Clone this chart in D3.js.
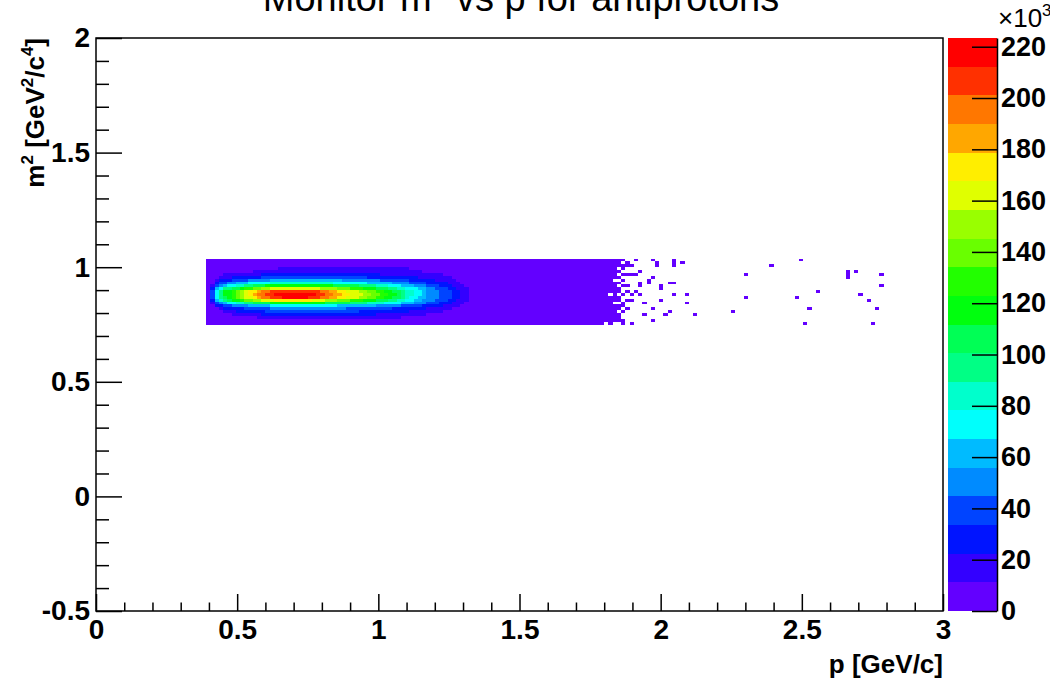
<!DOCTYPE html>
<html>
<head>
<meta charset="utf-8">
<script src="https://cdn.jsdelivr.net/npm/d3@7"></script>
<style>
  html, body { margin: 0; padding: 0; background: #fff; }
  svg { display: block; }
  text { white-space: pre; }
</style>
</head>
<body>
<div id="chart"></div>
<script>
// ------------------------------------------------------------
// data
// ------------------------------------------------------------
const xRange = [0, 3];            // p [GeV/c]
const yRange = [-0.5, 2];         // m^2 [GeV^2/c^4]
const xTickValues = [0, 0.5, 1, 1.5, 2, 2.5, 3];
const yTickValues = [-0.5, 0, 0.5, 1, 1.5, 2];
const zTickValues = [0, 20, 40, 60, 80, 100, 120, 140, 160, 180, 200, 220]; // x10^3
const zMax = 223.4;               // top of the colour palette, x10^3 entries
const nLevels = 20;               // contour levels of the palette

// filled block of the histogram: 97 bins in p from 0.39, 23 rows in m^2 down from 1.0375
const pBinStart = 0.39, pBinWidth = 0.015, nPBins = 97;
const m2BinTop = 1.0375, m2BinHeight = 0.0125;

// per row (top row first): first / last p-bin where the level k+1 is reached
const levelLeft = [
  [], [], [],
  [17],
  [11],
  [4, 13],
  [3, 6, 13],
  [2, 3, 6, 10, 15],
  [2, 2, 3, 5, 7, 10, 15],
  [1, 2, 2, 3, 4, 5, 7, 9, 11, 14],
  [1, 1, 2, 2, 2, 3, 4, 4, 6, 8, 9, 11, 13, 15],
  [1, 1, 1, 2, 2, 2, 3, 3, 4, 4, 6, 7, 8, 9, 10, 12, 13, 15],
  [1, 1, 1, 2, 2, 2, 3, 3, 4, 4, 6, 7, 8, 9, 10, 11, 12, 14, 16],
  [1, 1, 1, 2, 2, 2, 3, 3, 4, 5, 6, 7, 8, 9, 11, 12, 13, 15, 18],
  [1, 1, 2, 2, 2, 3, 3, 4, 5, 6, 8, 9, 11, 13, 16],
  [1, 2, 2, 3, 4, 5, 7, 9, 11, 15],
  [2, 2, 4, 6, 10, 15],
  [3, 4, 9, 15],
  [4, 7, 14],
  [6, 13],
  [12],
  [], []
];
const levelRight = [
  [], [], [],
  [47],
  [50],
  [55, 40],
  [57, 49, 37],
  [58, 53, 47, 40, 31],
  [59, 56, 51, 47, 43, 37, 29],
  [60, 57, 54, 51, 48, 45, 42, 39, 35, 29],
  [61, 58, 56, 53, 51, 49, 46, 44, 42, 39, 36, 33, 30, 26],
  [61, 59, 57, 54, 51, 50, 48, 46, 45, 43, 41, 39, 37, 35, 32, 30, 28, 26],
  [61, 59, 57, 54, 51, 50, 48, 46, 45, 44, 42, 40, 38, 36, 33, 31, 29, 27, 25],
  [61, 59, 57, 54, 51, 49, 47, 46, 45, 43, 41, 39, 37, 35, 32, 30, 28, 26, 23],
  [61, 58, 56, 53, 50, 48, 46, 44, 42, 39, 36, 33, 30, 27, 24],
  [60, 57, 54, 51, 48, 45, 41, 37, 33, 27],
  [59, 55, 50, 45, 39, 30],
  [57, 51, 43, 32],
  [55, 47, 35],
  [51, 39],
  [45],
  [], []
];

// empty bins inside the filled block [p, m2]
const emptyBins = [
  [1.818, 0.881], [1.838, 0.844], [1.838, 0.944], [1.808, 0.756], [1.838, 0.756]
];

// sparse single entries to the right of the block [p, m2]
const sparseBins = [
  [1.853, 1.031], [1.853, 1.019], [1.853, 1.006], [1.868, 1.031], [1.868, 1.006],
  [1.868, 0.994], [1.883, 1.019], [1.883, 1.006], [1.898, 1.006], [1.913, 1.031],
  [1.973, 1.031], [1.988, 1.019], [1.988, 1.006],
  [2.048, 1.031], [2.048, 1.019], [2.048, 1.006], [2.078, 1.019],
  [1.853, 0.981], [1.853, 0.956], [1.868, 0.969], [1.883, 0.969], [1.898, 0.969],
  [1.913, 0.969], [1.928, 0.981], [1.958, 0.944], [1.973, 0.956], [1.928, 0.931],
  [1.928, 0.919], [1.958, 0.931], [2.003, 0.919], [2.003, 0.906], [2.033, 0.931],
  [2.048, 0.931], [2.048, 0.881], [1.868, 0.919], [1.883, 0.919],
  [1.853, 0.894], [1.883, 0.894], [1.898, 0.881], [1.913, 0.894], [1.928, 0.881],
  [1.853, 0.869], [1.853, 0.856], [1.868, 0.844], [1.883, 0.856], [1.898, 0.856],
  [1.943, 0.844], [1.973, 0.819], [2.003, 0.856], [2.033, 0.806], [1.943, 0.794],
  [1.973, 0.769], [2.018, 0.794], [1.853, 0.769], [1.868, 0.769], [1.868, 0.756],
  [1.898, 0.756], [1.853, 0.931], [1.853, 0.906], [1.853, 0.831], [1.853, 0.819],
  [1.853, 0.794], [1.853, 0.781], [1.868, 0.944], [1.868, 0.881], [1.868, 0.831],
  [1.868, 0.806], [1.883, 0.819],
  [2.093, 0.887], [2.093, 0.839], [2.122, 0.791], [2.256, 0.809], [2.302, 0.966],
  [2.302, 0.870], [2.394, 1.011], [2.497, 1.027], [2.479, 0.870], [2.557, 0.900],
  [2.529, 0.822], [2.515, 0.761], [2.664, 0.983], [2.664, 0.970], [2.664, 0.957],
  [2.692, 0.979], [2.784, 0.966], [2.784, 0.914], [2.706, 0.883], [2.741, 0.853],
  [2.766, 0.822], [2.752, 0.761]
];

// ------------------------------------------------------------
// layout
// ------------------------------------------------------------
const W = 1050, H = 683;
const frame = { left: 96, right: 943, top: 38, bottom: 611 };
const pal = { left: 948, right: 997 };
const FONT = '"Liberation Sans", Arial, Helvetica, sans-serif';

const svg = d3.select('#chart').append('svg')
  .attr('width', W).attr('height', H)
  .attr('viewBox', `0 0 ${W} ${H}`)
  .style('font-family', FONT);

const x = d3.scaleLinear().domain(xRange).range([frame.left, frame.right]);
const y = d3.scaleLinear().domain(yRange).range([frame.bottom, frame.top]);
const zAxisScale = d3.scaleLinear().domain([0, zMax]).range([frame.bottom, frame.top]);

// ROOT "pretty" palette: 50 hues from violet to red, 20 contours pick from it
const rootPalette = d3.range(50).map(i => d3.hsl(280 - (i + 1) * 280 / 50, 1, 0.5).formatHex());
const levelColors = d3.range(nLevels).map(k => rootPalette[Math.floor((k + 0.99) * 50 / nLevels)]);
const z = d3.scaleQuantize().domain([0, zMax]).range(levelColors);

// ------------------------------------------------------------
// bins
// ------------------------------------------------------------
const colOf = p => Math.floor((p - pBinStart) / pBinWidth);
const rowOf = m2 => Math.floor((m2BinTop - m2) / m2BinHeight);
const holeKeys = new Set(emptyBins.map(([p, m]) => colOf(p) + ':' + rowOf(m)));

const bins = [];
levelLeft.forEach((lefts, row) => {
  for (let col = 0; col < nPBins; col++) {
    if (holeKeys.has(col + ':' + row)) continue;
    let level = 0;
    lefts.forEach((l, k) => { if (col >= l && col <= levelRight[row][k]) level = k + 1; });
    bins.push({ col, row, count: (level + 0.5) * zMax / nLevels });
  }
});
sparseBins.forEach(([p, m]) => bins.push({ col: colOf(p), row: rowOf(m), count: 0.001 }));

const binX = col => x(pBinStart + col * pBinWidth);
const binY = row => y(m2BinTop - row * m2BinHeight);

svg.append('g').attr('class', 'bins')
  .attr('shape-rendering', 'crispEdges')
  .selectAll('rect').data(bins).join('rect')
  .attr('x', d => binX(d.col))
  .attr('y', d => binY(d.row))
  .attr('width', d => binX(d.col + 1) - binX(d.col))
  .attr('height', d => binY(d.row + 1) - binY(d.row))
  .attr('fill', d => z(d.count));

// ------------------------------------------------------------
// frame + axes
// ------------------------------------------------------------
svg.append('rect')
  .attr('x', frame.left).attr('y', frame.top)
  .attr('width', frame.right - frame.left).attr('height', frame.bottom - frame.top)
  .attr('fill', 'none').attr('stroke', '#000').attr('stroke-width', 1.5);

function styleAxis(g, size, weight) {
  g.select('.domain').remove();
  g.selectAll('.tick line').attr('stroke', '#000').attr('stroke-width', 1.5);
  g.selectAll('.tick text')
    .attr('fill', '#000').attr('font-family', FONT)
    .attr('font-size', size).attr('font-weight', weight);
}

const fmt = d => String(d);
const xMinor = x.ticks(30).filter(v => !xTickValues.includes(v));
const yMinor = y.ticks(25).filter(v => !yTickValues.map(t => t.toFixed(1)).includes(v.toFixed(1)));

svg.append('g').attr('transform', `translate(0,${frame.bottom})`)
  .call(d3.axisBottom(x).tickValues(xMinor).tickSize(-8.5).tickFormat(''))
  .call(g => styleAxis(g, 28, 'bold'));
svg.append('g').attr('transform', `translate(0,${frame.bottom})`)
  .call(d3.axisBottom(x).tickValues(xTickValues).tickSize(-17).tickPadding(8).tickFormat(fmt))
  .call(g => styleAxis(g, 28, 'bold'));

svg.append('g').attr('transform', `translate(${frame.left},0)`)
  .call(d3.axisLeft(y).tickValues(yMinor).tickSize(-13).tickFormat(''))
  .call(g => styleAxis(g, 28, 'bold'));
svg.append('g').attr('transform', `translate(${frame.left},0)`)
  .call(d3.axisLeft(y).tickValues(yTickValues).tickSize(-26).tickPadding(6).tickFormat(fmt))
  .call(g => styleAxis(g, 28, 'bold'));

// text with superscripts: parts = [[text, isSup], ...]
function richText(sel, parts, size) {
  let up = false;
  parts.forEach(([t, sup]) => {
    const ts = sel.append('tspan').text(t);
    if (sup && !up) { ts.attr('font-size', size * 0.65).attr('dy', -size * 0.42); up = true; }
    else if (!sup && up) { ts.attr('dy', size * 0.42); up = false; }
  });
  return sel;
}

svg.append('text')
  .attr('x', 521).attr('y', 11)
  .attr('text-anchor', 'middle')
  .attr('font-size', 38)
  .call(s => richText(s, [['Monitor m'], ['2', true], [' vs p for antiprotons']], 38));

svg.append('text')
  .attr('x', frame.right).attr('y', 673)
  .attr('text-anchor', 'end')
  .attr('font-size', 26).attr('font-weight', 'bold')
  .text('p [GeV/c]');

svg.append('text')
  .attr('transform', `translate(44,${frame.top}) rotate(-90)`)
  .attr('text-anchor', 'end')
  .attr('font-size', 26).attr('font-weight', 'bold')
  .call(s => richText(s, [['m'], ['2', true], [' [GeV'], ['2', true], ['/c'], ['4', true], [']']], 26));

// ------------------------------------------------------------
// colour palette
// ------------------------------------------------------------
const bands = d3.range(nLevels).map(k => ({ lo: k * zMax / nLevels, hi: (k + 1) * zMax / nLevels }));
svg.append('g').attr('shape-rendering', 'crispEdges')
  .selectAll('rect').data(bands).join('rect')
  .attr('x', pal.left)
  .attr('y', d => zAxisScale(d.hi))
  .attr('width', pal.right - pal.left)
  .attr('height', d => zAxisScale(d.lo) - zAxisScale(d.hi))
  .attr('fill', d => z((d.lo + d.hi) / 2));

svg.append('g').attr('transform', `translate(${pal.right},0)`)
  .call(d3.axisRight(zAxisScale).tickValues(zTickValues).tickSize(-25).tickSizeOuter(0).tickPadding(4).tickFormat(fmt))
  .call(g => {
    g.select('.domain').attr('stroke', '#000').attr('stroke-width', 1.5);
    g.selectAll('.tick line').attr('stroke', '#000').attr('stroke-width', 1.5);
    g.selectAll('.tick text').attr('fill', '#000').attr('font-family', FONT)
      .attr('font-size', 27).attr('font-weight', 'bold');
  });

svg.append('text')
  .attr('x', 998).attr('y', 27)
  .attr('font-size', 26)
  .call(s => richText(s, [['\u00d710'], ['3', true]], 26));
</script>
</body>
</html>
